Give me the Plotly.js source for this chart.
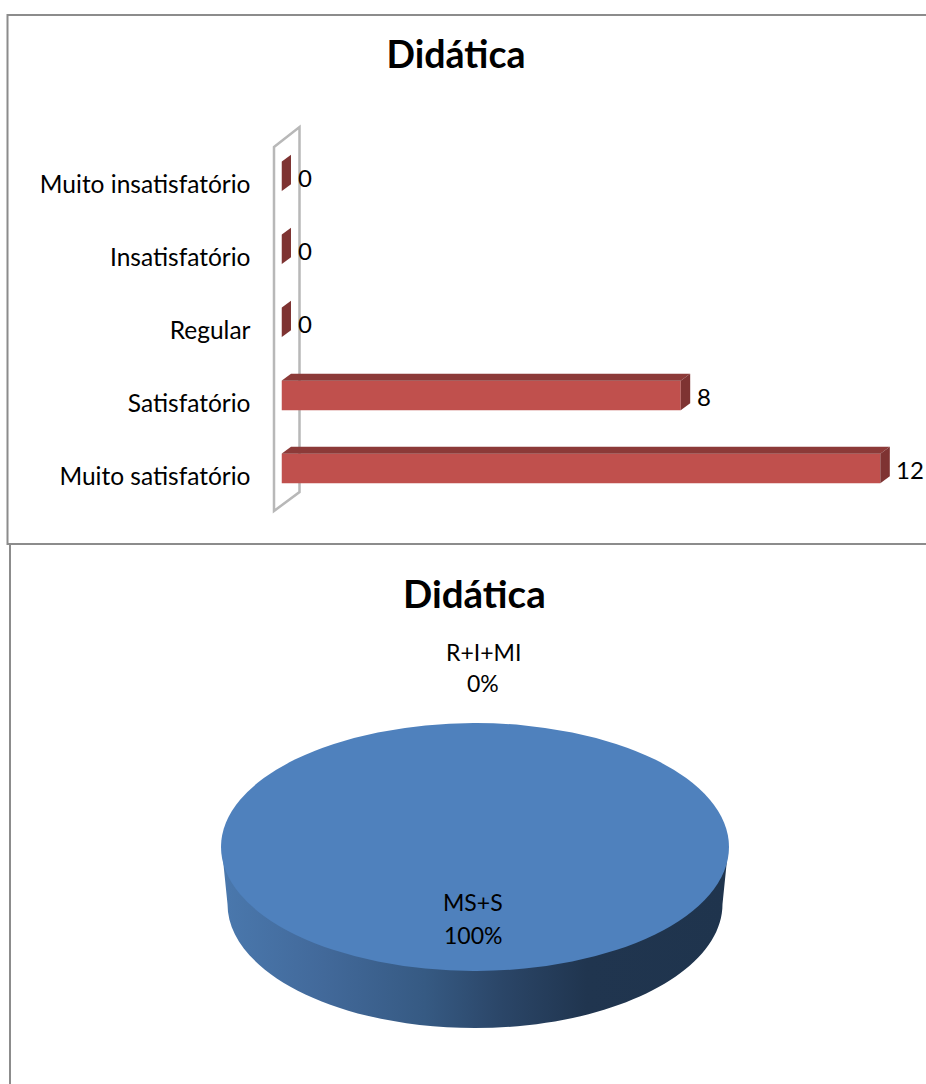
<!DOCTYPE html>
<html>
<head>
<meta charset="utf-8">
<script src="https://cdn.plot.ly/plotly-3.0.1.min.js"></script>
<style>
html,body{margin:0;padding:0;background:#fff}
#wrap{position:relative;width:926px;height:1084px;overflow:hidden}
#wrap>div{position:absolute}
#side{left:0;top:0;width:926px;height:1084px}
#pie{left:221px;top:593px;width:508px;height:508px;transform:scaleY(0.4882);transform-origin:center center}
#main{left:0;top:0;width:926px;height:1084px}
</style>
</head>
<body>
<div id="wrap"><div id="side"></div><div id="pie"></div><div id="main"></div></div>
<script>
const chartTitle = 'Didática';
const categories = ['Muito satisfatório','Satisfatório','Regular','Insatisfatório','Muito insatisfatório'];
const counts = [12, 8, 0, 0, 0];
const pieLabels = ['MS+S','R+I+MI'];
const pieValues = [20, 0];

const W = 926, H = 1084, FONT = 'Lato, "Noto Sans", sans-serif';
const px = x => x / W, py = y => 1 - y / H;
const paperPath = pts => pts.map((p,i)=>(i?'L':'M')+px(p[0])+','+py(p[1])).join(' ');
const cfg = {displayModeBar:false, staticPlot:true};

// bar geometry (axis units): 3-D depth and thickness
const X0 = 281.5, UX = 49.9, XMAX = 12.9, YB = 512.45, YT = 147.5;
const unitY = (YB - YT) / 5;
const barW = 29.5 / unitY, barOff = 7.5 / unitY - barW / 2;
const dx = 9.5 / UX, dy = 7 / unitY;

const faces = [];
categories.forEach((c, i) => {
  const v = counts[i], lo = i + barOff, hi = lo + barW;
  if (v > 0) faces.push({type:'path', xref:'x', yref:'y', layer:'above', line:{width:0}, fillcolor:'#8C3A38',
    path:`M0,${hi} L${dx},${hi+dy} L${v+dx},${hi+dy} L${v},${hi} Z`});
  faces.push({type:'path', xref:'x', yref:'y', layer:'above', line:{width:0}, fillcolor:'#7E3332',
    path:`M${v},${hi} L${v+dx},${hi+dy} L${v+dx},${lo+dy} L${v},${lo} Z`});
});

const frame = [
  {type:'path', xref:'paper', yref:'paper', layer:'below', line:{color:'#8c8c8c',width:2},
   path:paperPath([[926,15],[7.5,15],[7.5,544],[926,544]])},
  {type:'path', xref:'paper', yref:'paper', layer:'below', line:{color:'#8c8c8c',width:2},
   path:paperPath([[10,544],[10,1084]])},
  {type:'path', xref:'paper', yref:'paper', layer:'below', line:{color:'#b8b8b8',width:2.5},
   path:paperPath([[274,147],[299.5,127],[299.5,492],[274,511]])+' Z'}
];

const valueLabels = categories.map((c,i)=>({
  x:counts[i], y:i, xref:'x', yref:'y', text:String(counts[i]), showarrow:false,
  xanchor:'left', yanchor:'middle', xshift:14, yshift:6, font:{family:FONT,size:24,color:'#000'}
}));
const total = pieValues.reduce((a,b)=>a+b,0);
const line = (text, x, y) => ({
  xref:'paper', yref:'paper', x:px(x), y:py(y), showarrow:false, align:'center', text:text,
  font:{family:FONT,size:23,color:'#000'}, xanchor:'center', yanchor:'middle'
});
const pct = i => Math.round(pieValues[i]/total*100) + '%';

Plotly.newPlot('main', [{
  type:'bar', orientation:'h', x:counts, y:categories.map((c,i)=>i),
  width:barW, offset:barOff, marker:{color:'#C0504D', line:{width:0}}, hoverinfo:'skip'
}], {
  width:W, height:H, margin:{l:0,r:0,t:0,b:0}, autosize:false, showlegend:false,
  paper_bgcolor:'rgba(0,0,0,0)', plot_bgcolor:'rgba(0,0,0,0)',
  title:{text:'<b>'+chartTitle+'</b>', x:456/W, xanchor:'center', y:py(55), yanchor:'middle',
         font:{family:FONT,size:37.5,color:'#000'}},
  xaxis:{domain:[px(X0),px(X0+UX*XMAX)], range:[0,XMAX], visible:false, fixedrange:true},
  yaxis:{domain:[py(YB),py(YT)], range:[-0.5,4.5], tickmode:'array',
         tickvals:categories.map((c,i)=>i), ticktext:categories, showgrid:false, zeroline:false,
         showline:false, ticks:'', ticklabelstandoff:30, tickfont:{family:FONT,size:24.5,color:'#000'}},
  shapes:frame.concat(faces),
  annotations:valueLabels.concat([
    {xref:'paper',yref:'paper',x:px(474),y:py(593),text:'<b>'+chartTitle+'</b>',showarrow:false,
     xanchor:'center',yanchor:'middle',font:{family:FONT,size:38.5,color:'#000'}},
    line(pieLabels[1],484,652), line(pct(1),483,683),
    line(pieLabels[0],472.5,902), line(pct(0),472.5,935)
  ])
}, cfg);

Plotly.newPlot('pie', [{
  type:'pie', labels:pieLabels, values:pieValues, textinfo:'none', sort:false,
  marker:{colors:['#4F81BD','#C0504D'], line:{width:0}}, hoverinfo:'skip'
}], {width:508,height:508,margin:{l:0,r:0,t:0,b:0},showlegend:false,paper_bgcolor:'rgba(0,0,0,0)'}, cfg);

// pie rim (3-D side), behind the flattened pie
const k = 0.5523, cx = 475, cy = 904, rx = 247.5, ry = 124;
const P = (x,y)=>px(x)+','+py(y);
const rim = `M${P(222,850)} L${P(cx-rx,cy)} C${P(cx-rx,cy+k*ry)} ${P(cx-k*rx,cy+ry)} ${P(cx,cy+ry)} `+
            `C${P(cx+k*rx,cy+ry)} ${P(cx+rx,cy+k*ry)} ${P(cx+rx,cy)} L${P(728,850)} Z`;
Plotly.newPlot('side', [], {
  width:W,height:H,margin:{l:0,r:0,t:0,b:0},paper_bgcolor:'#fff',plot_bgcolor:'#fff',
  xaxis:{visible:false},yaxis:{visible:false},
  shapes:[{type:'path',xref:'paper',yref:'paper',line:{width:0},fillcolor:'#2E4C70',path:rim}]
}, cfg).then(gd=>{
  const svg = gd.querySelector('svg.main-svg');
  const NS='http://www.w3.org/2000/svg';
  const defs=document.createElementNS(NS,'defs');
  const g=document.createElementNS(NS,'linearGradient'); g.id='rimGrad';
  [[0,'#4A78AD'],[0.2,'#42699A'],[0.4,'#365A83'],[0.55,'#2B4668'],[0.72,'#20354F'],[1,'#1F344D']].forEach(s=>{
    const st=document.createElementNS(NS,'stop');
    st.setAttribute('offset',s[0]); st.setAttribute('stop-color',s[1]); g.appendChild(st);
  });
  defs.appendChild(g); svg.insertBefore(defs,svg.firstChild);
  gd.querySelectorAll('.shapelayer path').forEach(p=>p.style.setProperty('fill','url(#rimGrad)'));
});
</script>
</body>
</html>
